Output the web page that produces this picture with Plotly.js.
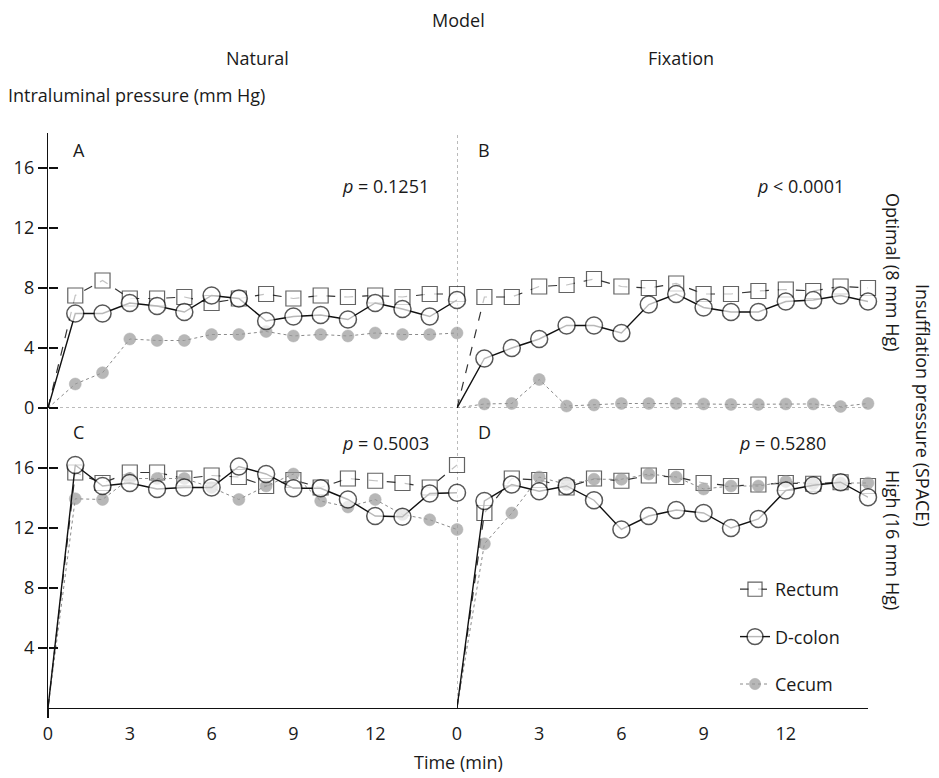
<!DOCTYPE html>
<html>
<head>
<meta charset="utf-8">
<script src="https://cdn.plot.ly/plotly-3.0.1.min.js"></script>
<style>html,body{margin:0;padding:0;background:#fff;}#chart{width:939px;height:778px;}</style>
</head>
<body>
<div id="chart"></div>
<script>
// ---- data (minutes 0..15) ----
const time = [0,1,2,3,4,5,6,7,8,9,10,11,12,13,14,15];
const seriesNames = ["Rectum","D-colon","Cecum"];

// Panel A: Natural, Optimal (8 mm Hg)
const A_rectum = [0,7.5,8.5,7.3,7.3,7.4,7.0,7.3,7.6,7.3,7.5,7.4,7.5,7.4,7.6,7.6];
const A_dcolon = [0,6.3,6.3,7.0,6.8,6.4,7.5,7.3,5.8,6.1,6.2,5.9,7.0,6.6,6.1,7.2];
const A_cecum  = [0,1.6,2.35,4.6,4.5,4.5,4.9,4.9,5.1,4.8,4.9,4.8,5.0,4.9,4.9,5.0];
// Panel B: Fixation, Optimal (8 mm Hg)
const B_rectum = [0,7.4,7.4,8.1,8.2,8.6,8.1,8.0,8.3,7.6,7.6,7.8,7.9,7.8,8.1,8.0];
const B_dcolon = [0,3.3,4.0,4.6,5.5,5.5,5.0,6.9,7.6,6.7,6.4,6.4,7.1,7.2,7.5,7.1];
const B_cecum  = [0,0.27,0.3,1.9,0.13,0.2,0.3,0.3,0.3,0.27,0.24,0.24,0.27,0.27,0.1,0.3];
// Panel C: Natural, High (16 mm Hg)
const C_rectum = [0,15.7,15.0,15.7,15.7,15.3,15.5,15.4,14.8,15.2,14.7,15.3,15.15,15.0,14.7,16.2];
const C_dcolon = [0,16.2,14.8,15.0,14.6,14.7,14.7,16.1,15.6,14.65,14.65,13.9,12.8,12.75,14.3,14.35];
const C_cecum  = [0,13.95,13.9,15.3,15.3,15.3,14.7,13.9,14.8,15.6,13.8,13.4,13.9,12.9,12.55,11.9];
// Panel D: Fixation, High (16 mm Hg)
const D_rectum = [0,13.0,15.3,15.2,14.7,15.3,15.15,15.5,15.4,15.0,14.8,14.9,15.0,14.95,15.05,14.8];
const D_dcolon = [0,13.8,14.9,14.45,14.8,13.85,11.9,12.8,13.2,13.0,12.0,12.6,14.5,14.85,15.05,14.05];
const D_cecum  = [0,10.95,13.0,15.4,14.9,15.25,15.25,15.6,15.4,14.6,14.8,14.8,15.1,14.95,15.0,15.0];

const xTicks = [0,3,6,9,12];
const yTicksTop = [0,4,8,12,16];
const yTicksBottom = [4,8,12,16];
const pValues = ["<i>p</i> = 0.1251","<i>p</i> < 0.0001","<i>p</i> = 0.5003","<i>p</i> = 0.5280"];
const panelLetters = ["A","B","C","D"];

// ---- styling ----
const FONT = "Open Sans, Noto Sans, sans-serif";
const TXT = "#1a1a1a";
const W = 939, H = 778;
const px = v => v / W;
const py = v => 1 - v / H;

const styles = {
  "Rectum":  {line:{color:"#333", width:1.2, dash:"dash"}, marker:{symbol:"square", color:"#fff", size:15, line:{color:"#222", width:1.2}}, rank:1},
  "D-colon": {line:{color:"#111", width:1.4, dash:"solid"}, marker:{symbol:"circle", color:"#fff", size:17, line:{color:"#111", width:1.5}}, rank:2},
  "Cecum":   {line:{color:"#8a8a8a", width:1, dash:"dot"}, marker:{symbol:"circle", color:"#9a9a9a", size:12, line:{color:"#8f8f8f", width:0.5}}, rank:3}
};

const panels = [
  {xa:"x",  ya:"y",  data:{"Rectum":A_rectum,"D-colon":A_dcolon,"Cecum":A_cecum}},
  {xa:"x2", ya:"y",  data:{"Rectum":B_rectum,"D-colon":B_dcolon,"Cecum":B_cecum}},
  {xa:"x",  ya:"y2", data:{"Rectum":C_rectum,"D-colon":C_dcolon,"Cecum":C_cecum}},
  {xa:"x2", ya:"y2", data:{"Rectum":D_rectum,"D-colon":D_dcolon,"Cecum":D_cecum}}
];
const drawOrder = ["Rectum","Cecum","D-colon"];

const traces = [];
panels.forEach((p, i) => {
  drawOrder.forEach(name => {
    const s = styles[name];
    const sizes = time.map(t => t === 0 ? 0 : s.marker.size);
    traces.push({
      type:"scatter", mode:"lines+markers",
      x: time, y: p.data[name],
      xaxis: p.xa, yaxis: p.ya,
      name: name, legendgroup: name, legendrank: s.rank,
      showlegend: i === 3,
      cliponaxis: false,
      line: s.line,
      marker: Object.assign({}, s.marker, {size: sizes}),
      hoverinfo: "skip"
    });
  });
});
// placeholder traces (no visible point) so the tick-overlay axes get drawn
const ghost = (xa, ya) => ({type:"scatter", mode:"markers", x:[0], y:[null], xaxis:xa, yaxis:ya,
  showlegend:false, hoverinfo:"skip", marker:{size:1, color:"rgba(0,0,0,0)"}});
traces.push(ghost("x", "y3"));
traces.push(ghost("x", "y4"));
traces.push(ghost("x3", "y2"));

const xDomL = [px(48), px(457)];
const xDomR = [px(457), px(868)];
const yDomTop = [py(408), py(133)];
const yDomBot = [py(708), py(408)];
const topRange = [0, 18.33];
const botRange = [0, 20];

const axFont = {family:FONT, size:18, color:TXT};
const baseX = {range:[0,15], tickvals:xTicks, ticktext:xTicks.map(String), ticks:"", showgrid:false, zeroline:false,
  showline:true, linecolor:"#111", linewidth:1.2, tickfont:axFont, ticklabelstandoff:9, anchor:"y2", fixedrange:true};
const baseY = {showgrid:false, zeroline:false, showline:true, linecolor:"#111", linewidth:1.2, ticks:"outside",
  ticklen:9, tickwidth:1.2, tickcolor:"#111", tickfont:axFont, anchor:"x", fixedrange:true};

const annotations = [];
const ann = (text, x, y, opts) => annotations.push(Object.assign({text, x:px(x), y:py(y), xref:"paper", yref:"paper",
  xanchor:"center", yanchor:"middle", showarrow:false, font:{family:FONT, size:18, color:TXT}}, opts||{}));

ann("Model", 458, 20);
ann("Natural", 257, 58);
ann("Fixation", 681, 58);
ann("Intraluminal pressure (mm Hg)", 6, 95, {xanchor:"left"});
ann(panelLetters[0], 71, 150, {xanchor:"left"});
ann(panelLetters[1], 476, 150, {xanchor:"left"});
ann(panelLetters[2], 71, 432, {xanchor:"left"});
ann(panelLetters[3], 476, 432, {xanchor:"left"});
ann(pValues[0], 431, 186, {xanchor:"right"});
ann(pValues[1], 846, 186, {xanchor:"right"});
ann(pValues[2], 431, 443, {xanchor:"right"});
ann(pValues[3], 828, 443, {xanchor:"right"});
ann("Time (min)", 458, 762);
ann("Optimal (8 mm Hg)", 893, 272, {textangle:90});
ann("High (16 mm Hg)", 893, 540, {textangle:90});
ann("Insufflation pressure (SPACE)", 923, 405, {textangle:90});

// right-pointing half of the crossing y ticks: a free axis sitting on the left axis line, ticks facing right
const tickOverlay = (over, range, vals) => ({overlaying:over, anchor:"free", position:xDomL[0], side:"right", range:range,
  tickvals:vals, ticks:"outside", ticklen:9, tickwidth:1.2, tickcolor:"#111", showticklabels:false, showline:false,
  showgrid:false, zeroline:false, fixedrange:true});

const layout = {
  width:W, height:H, margin:{l:0,r:0,t:0,b:0}, paper_bgcolor:"#fff", plot_bgcolor:"rgba(0,0,0,0)",
  font:{family:FONT, size:18, color:TXT},
  showlegend:true,
  legend:{x:px(735), y:py(571), xanchor:"left", yanchor:"top", bgcolor:"rgba(0,0,0,0)",
    font:{family:FONT, size:18, color:TXT}, tracegroupgap:21, traceorder:"grouped", itemsizing:"trace"},
  xaxis: Object.assign({}, baseX, {domain:xDomL}),
  xaxis2: Object.assign({}, baseX, {domain:xDomR}),
  xaxis3: {overlaying:"x", anchor:"y2", side:"bottom", range:[0,15], tickvals:[0], ticks:"outside", ticklen:9, tickwidth:1.2,
    tickcolor:"#111", showticklabels:false, showline:false, showgrid:false, zeroline:false, fixedrange:true},
  yaxis: Object.assign({}, baseY, {domain:yDomTop, range:topRange, tickvals:yTicksTop, ticktext:yTicksTop.map(String)}),
  yaxis2: Object.assign({}, baseY, {domain:yDomBot, range:botRange, tickvals:yTicksBottom, ticktext:yTicksBottom.map(String)}),
  yaxis3: tickOverlay("y", topRange, yTicksTop),
  yaxis4: tickOverlay("y2", botRange, yTicksBottom),
  shapes:[
    {type:"line", xref:"x2", yref:"paper", x0:0, x1:0, y0:yDomBot[0], y1:yDomTop[1], line:{color:"#777", width:1, dash:"dot"}, layer:"below"},
    {type:"line", xref:"paper", yref:"y", x0:xDomL[0], x1:xDomR[1], y0:0, y1:0, line:{color:"#777", width:1, dash:"dot"}, layer:"below"}
  ],
  annotations: annotations
};

Plotly.newPlot("chart", traces, layout, {displayModeBar:false, staticPlot:true});
</script>
</body>
</html>
